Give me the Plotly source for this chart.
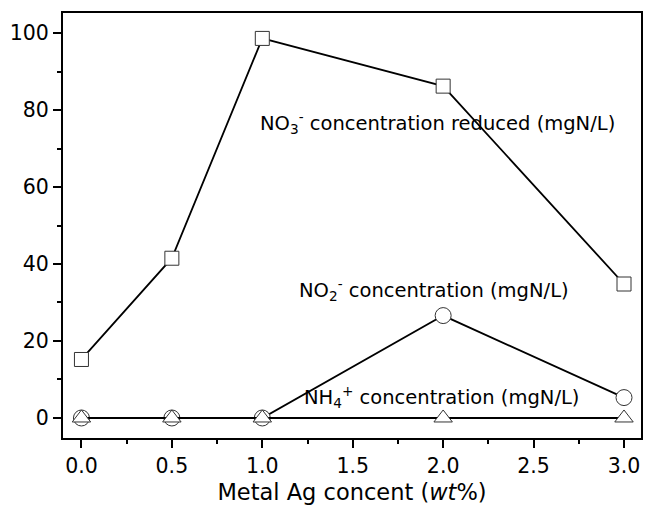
import plotly.graph_objects as go

x_vals = [0.0, 0.5, 1.0, 2.0, 3.0]
no3 = [15.2, 41.5, 98.6, 86.2, 34.8]
no2 = [0.0, 0.0, 0.0, 26.6, 5.3]
nh4 = [0.0, 0.0, 0.0, 0.0, 0.0]

x_ticks = [0.0, 0.5, 1.0, 1.5, 2.0, 2.5, 3.0]
x_labels = ["0.0", "0.5", "1.0", "1.5", "2.0", "2.5", "3.0"]
y_ticks = [0, 20, 40, 60, 80, 100]
y_labels = ["0", "20", "40", "60", "80", "100"]

FONT = "DejaVu Sans, Arial, sans-serif"
mk_line = dict(color="#333333", width=1)

fig = go.Figure()
fig.add_trace(go.Scatter(x=x_vals, y=no3, mode="lines+markers",
                         line=dict(color="black", width=1.8),
                         marker=dict(symbol="square", size=14, color="white", line=mk_line)))
fig.add_trace(go.Scatter(x=x_vals, y=no2, mode="lines+markers",
                         line=dict(color="black", width=1.8),
                         marker=dict(symbol="circle", size=16, color="white", line=mk_line)))
fig.add_trace(go.Scatter(x=x_vals, y=nh4, mode="lines+markers",
                         line=dict(color="black", width=1.8),
                         marker=dict(symbol="triangle-up", size=16, color="white", line=mk_line)))

ann_font = dict(family=FONT, size=19.5, color="black")
fig.add_annotation(x=1.97, y=76.6, text="NO<sub>3</sub><sup>-</sup> concentration reduced (mgN/L)",
                   showarrow=False, font=ann_font, xanchor="center", yanchor="middle")
fig.add_annotation(x=1.95, y=33.2, text="NO<sub>2</sub><sup>-</sup> concentration (mgN/L)",
                   showarrow=False, font=ann_font, xanchor="center", yanchor="middle")
fig.add_annotation(x=1.99, y=5.5, text="NH<sub>4</sub><sup>+</sup> concentration (mgN/L)",
                   showarrow=False, font=ann_font, xanchor="center", yanchor="middle")

fig.update_layout(
    width=645, height=509, autosize=False,
    margin=dict(l=62.5, r=2, t=13, b=71),
    paper_bgcolor="white", plot_bgcolor="white",
    showlegend=False,
    font=dict(family=FONT, size=20.5, color="black"),
    xaxis=dict(range=[-0.102, 3.094], tickvals=x_ticks, ticktext=x_labels,
               ticks="outside", ticklen=8, tickwidth=2, tickcolor="black",
               showline=True, linewidth=2, linecolor="black", mirror=True,
               showgrid=False, zeroline=False,
               minor=dict(tickvals=[0.25, 0.75, 1.25, 1.75, 2.25, 2.75], ticks="outside",
                          ticklen=4, tickwidth=2, tickcolor="black"),
               title=dict(text="Metal Ag concent (<i>wt</i>%)",
                          font=dict(family=FONT, size=22.5, color="black"), standoff=8),
               tickfont=dict(family=FONT, size=20.5, color="black")),
    yaxis=dict(range=[-5.2, 105.2], tickvals=y_ticks, ticktext=y_labels,
               ticks="outside", ticklen=8, tickwidth=2, tickcolor="black",
               showline=True, linewidth=2, linecolor="black", mirror=True,
               showgrid=False, zeroline=False,
               minor=dict(tickvals=[10, 30, 50, 70, 90], ticks="outside",
                          ticklen=4, tickwidth=2, tickcolor="black"),
               tickfont=dict(family=FONT, size=20.5, color="black")),
)

fig.write_html("out.html")
